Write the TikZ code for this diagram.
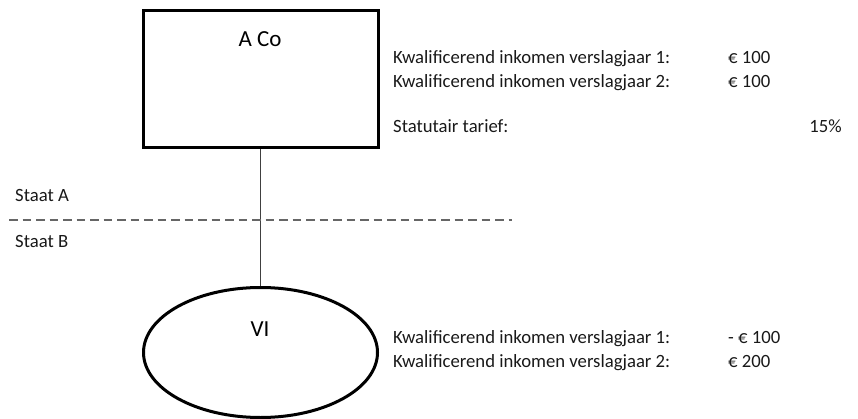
\documentclass[tikz,border=0pt]{standalone}
\usepackage{fontspec}
\setmainfont{Carlito}
\usetikzlibrary{shapes.geometric}
\begin{document}
\begin{tikzpicture}[x=1pt,y=-1pt,
  entity/.style={draw=black,line width=3pt,inner sep=0pt},
  big/.style={font=\fontsize{23}{27}\selectfont,inner sep=0pt},
  txt/.style={font=\fontsize{18.7}{22}\selectfont,inner sep=0pt,text=black!90},
  link/.style={draw=black!75,line width=1.3pt},
  border/.style={draw=black!60,line width=1.2pt,dash pattern=on 8.5pt off 5pt}]
\useasboundingbox (0,0) rectangle (858,419);
% entities
\node[entity,rectangle,minimum width=235pt,minimum height=137pt] (acobox) at (260.5,79.5) {};
\node[big] (aco) at (260,39) {A Co};
\node[entity,ellipse,minimum width=234pt,minimum height=130pt] (vi) at (260.5,352.5) {};
\node[big] (vit) at (260,329) {VI};
\draw[link] (acobox.south) -- (vi.north);
% border
\coordinate (dl) at (9,220);
\coordinate (dr) at (512,220);
\draw[border] (dl) -- (dr);
\node[txt,anchor=west] (sa) at (15,196) {Staat A};
\node[txt,anchor=west] (sb) at (15,242) {Staat B};
% A Co figures
\node[txt,anchor=base west] (a1) at (393,64) {Kwalificerend inkomen verslagjaar 1:};
\node[txt,anchor=base west] (a1v) at (728,64) {€ 100};
\node[txt,anchor=base west] (a2) at (393,88) {Kwalificerend inkomen verslagjaar 2:};
\node[txt,anchor=base west] (a2v) at (728,88) {€ 100};
\node[txt,anchor=base west] (st) at (393,133) {Statutair tarief:};
\node[txt,anchor=base east] (stv) at (842,133) {15\%};
% VI figures
\node[txt,anchor=base west] (v1) at (393,343) {Kwalificerend inkomen verslagjaar 1:};
\node[txt,anchor=base west] (v1v) at (728,343) {- € 100};
\node[txt,anchor=base west] (v2) at (393,367) {Kwalificerend inkomen verslagjaar 2:};
\node[txt,anchor=base west] (v2v) at (728,367) {€ 200};
\end{tikzpicture}
\end{document}
